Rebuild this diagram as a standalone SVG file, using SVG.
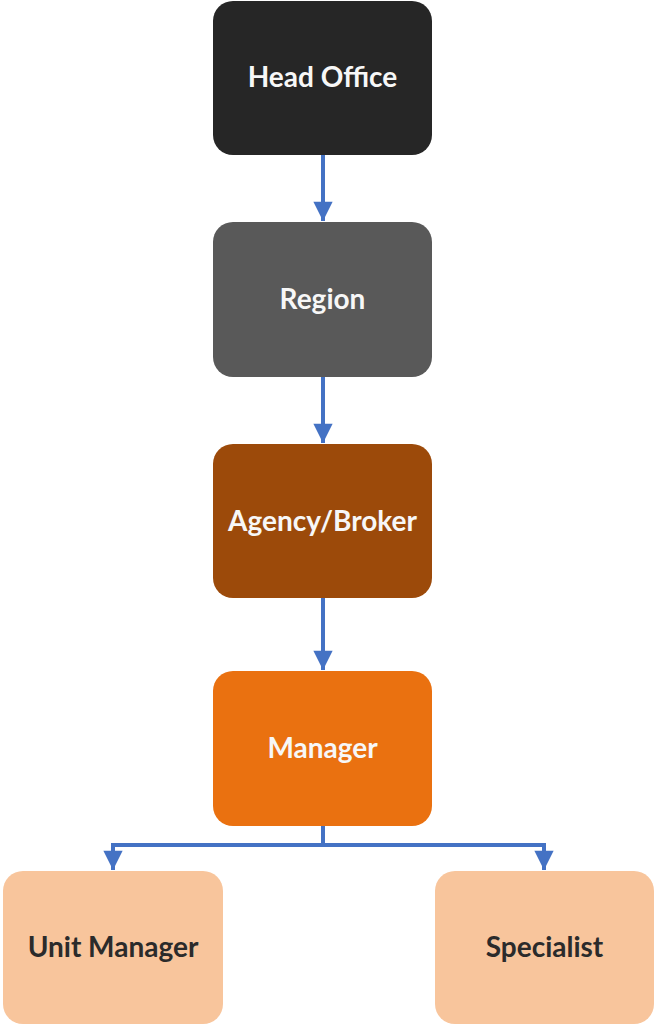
<svg xmlns="http://www.w3.org/2000/svg" width="659" height="1027" viewBox="0 0 659 1027">
<style>
.lbl{font-family:Lato,"Open Sans","Liberation Sans",sans-serif;font-weight:bold;font-size:28px;text-anchor:middle}
.w{fill:#f7f7f7}
.d{fill:#2b2b2b}
.c{stroke:#4472C4;stroke-width:4;fill:none}
</style>
<defs>
<marker id="ah" viewBox="0 0 10 10" refX="10" refY="5" markerWidth="5" markerHeight="4.8" markerUnits="strokeWidth" orient="auto">
<path d="M0,0 L10,5 L0,10 z" fill="#4472C4"/>
</marker>
</defs>
<rect width="659" height="1027" fill="#ffffff"/>
<g id="connectors">
<path class="c" d="M323,155 V221" marker-end="url(#ah)"/>
<path class="c" d="M323,377 V443" marker-end="url(#ah)"/>
<path class="c" d="M323,598 V670" marker-end="url(#ah)"/>
<path class="c" d="M323,826 V845"/>
<path class="c" d="M323,845 H113 V870" marker-end="url(#ah)"/>
<path class="c" d="M323,845 H544 V870" marker-end="url(#ah)"/>
</g>
<g id="head-office">
<rect x="213" y="1" width="219" height="154" rx="20" fill="#262626"/>
<text class="lbl w" x="322.5" y="87">Head Office</text>
</g>
<g id="region">
<rect x="213" y="222" width="219" height="155" rx="20" fill="#595959"/>
<text class="lbl w" x="322.5" y="309">Region</text>
</g>
<g id="agency-broker">
<rect x="213" y="444" width="219" height="154" rx="20" fill="#9C4A0A"/>
<text class="lbl w" x="322.5" y="531">Agency/Broker</text>
</g>
<g id="manager">
<rect x="213" y="671" width="219" height="155" rx="20" fill="#EA7110"/>
<text class="lbl w" x="322.5" y="758">Manager</text>
</g>
<g id="unit-manager">
<rect x="3" y="871" width="220" height="153" rx="20" fill="#F8C59C"/>
<text class="lbl d" x="113" y="957">Unit Manager</text>
</g>
<g id="specialist">
<rect x="435" y="871" width="219" height="153" rx="20" fill="#F8C59C"/>
<text class="lbl d" x="544.5" y="957">Specialist</text>
</g>
</svg>
